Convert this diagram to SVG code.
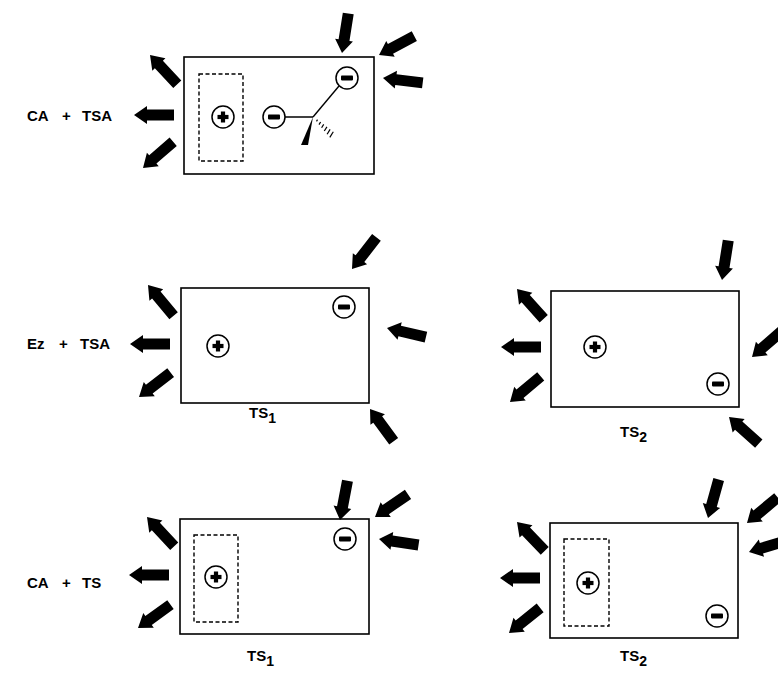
<svg xmlns="http://www.w3.org/2000/svg" xmlns:xlink="http://www.w3.org/1999/xlink" width="778" height="673" viewBox="0 0 778 673">
<style>
.box{fill:none;stroke:#000;stroke-width:1.6}
.dash{fill:none;stroke:#000;stroke-width:1.4;stroke-dasharray:4 2.5}
.ring{fill:#fff;stroke:#000;stroke-width:1.5}
.lbl{font-family:"Liberation Sans",Arial,sans-serif;font-weight:bold;font-size:15px;fill:#000}
.ts{font-family:"Liberation Sans",Arial,sans-serif;font-weight:bold;font-size:15px;fill:#000}
.bond{stroke:#000;stroke-width:1.4;fill:none}
</style>
<defs>
<path id="arr" d="M0,0 L-13,-9 L-13,-5.5 L-40,-5.5 L-40,5.5 L-13,5.5 L-13,9 Z" fill="#000"/>
<g id="plus"><circle r="11" class="ring"/><rect x="-5.5" y="-2.1" width="11" height="4.2" fill="#000"/><rect x="-2.1" y="-5.5" width="4.2" height="11" fill="#000"/></g>
<g id="minus"><circle r="11" class="ring"/><rect x="-6" y="-2.4" width="12" height="4.8" rx="0.8" fill="#000"/></g>
</defs>

<g id="label-row1"><text class="lbl" x="27" y="121">CA</text><text class="lbl" x="62" y="121">+</text><text class="lbl" x="82" y="121">TSA</text></g>
<g id="label-row2"><text class="lbl" x="27" y="349">Ez</text><text class="lbl" x="59" y="349">+</text><text class="lbl" x="80" y="349">TSA</text></g>
<g id="label-row3"><text class="lbl" x="27" y="588">CA</text><text class="lbl" x="62" y="588">+</text><text class="lbl" x="82" y="588">TS</text></g>

<g id="node-top">
<rect class="box" x="184" y="57" width="190" height="117"/>
<rect class="dash" x="199" y="74" width="44" height="87"/>
<use xlink:href="#plus" x="223" y="117"/>
<line class="bond" x1="274" y1="117" x2="313" y2="117"/>
<line class="bond" x1="313" y1="117" x2="339" y2="86"/>
<path d="M313,117 L301,145 L308,145 Z" fill="#000"/>
<g stroke="#000" stroke-width="1.2">
<line x1="317.5" y1="119.6" x2="316.5" y2="121.4"/>
<line x1="320.6" y1="122.0" x2="319.0" y2="124.6"/>
<line x1="323.7" y1="124.4" x2="321.6" y2="127.8"/>
<line x1="326.9" y1="126.9" x2="324.3" y2="131.0"/>
<line x1="330.1" y1="129.4" x2="327.1" y2="134.2"/>
<line x1="333.3" y1="131.8" x2="329.8" y2="137.4"/>
</g>
<use xlink:href="#minus" x="274" y="117"/>
<use xlink:href="#minus" x="347" y="78"/>
</g>

<g id="node-mid-ts1">
<rect class="box" x="181" y="288" width="188" height="115"/>
<use xlink:href="#plus" x="218" y="346"/>
<use xlink:href="#minus" x="344" y="307"/>
<text class="ts" x="249" y="418">TS<tspan font-size="14" dy="5">1</tspan></text>
</g>

<g id="node-mid-ts2">
<rect class="box" x="551" y="291" width="188" height="116"/>
<use xlink:href="#plus" x="595" y="347"/>
<use xlink:href="#minus" x="718" y="384"/>
<text class="ts" x="620" y="437">TS<tspan font-size="14" dy="5">2</tspan></text>
</g>

<g id="node-bot-ts1">
<rect class="box" x="180" y="519" width="189" height="115"/>
<rect class="dash" x="194" y="535" width="44" height="87"/>
<use xlink:href="#plus" x="216" y="577"/>
<use xlink:href="#minus" x="345" y="539"/>
<text class="ts" x="247" y="661">TS<tspan font-size="14" dy="5">1</tspan></text>
</g>

<g id="node-bot-ts2">
<rect class="box" x="550" y="523" width="188" height="115"/>
<rect class="dash" x="564" y="539" width="45" height="87"/>
<use xlink:href="#plus" x="588" y="583"/>
<use xlink:href="#minus" x="717" y="616"/>
<text class="ts" x="620" y="661">TS<tspan font-size="14" dy="5">2</tspan></text>
</g>

<g id="connectors">
<use xlink:href="#arr" transform="translate(150,55) rotate(-133)"/>
<use xlink:href="#arr" transform="translate(134,115) rotate(180)"/>
<use xlink:href="#arr" transform="translate(143,168) rotate(139)"/>
<use xlink:href="#arr" transform="translate(342,53) rotate(99)"/>
<use xlink:href="#arr" transform="translate(379,55) rotate(152)"/>
<use xlink:href="#arr" transform="translate(383,78) rotate(-173)"/>

<use xlink:href="#arr" transform="translate(352,269) rotate(127.7)"/>
<use xlink:href="#arr" transform="translate(148,285) rotate(-129.8)"/>
<use xlink:href="#arr" transform="translate(130,344) rotate(180)"/>
<use xlink:href="#arr" transform="translate(139,397) rotate(142.3)"/>
<use xlink:href="#arr" transform="translate(387,328) rotate(-166.7)"/>
<use xlink:href="#arr" transform="translate(370,409) rotate(-126.3)"/>

<use xlink:href="#arr" transform="translate(722,280) rotate(99)"/>
<use xlink:href="#arr" transform="translate(517,289) rotate(-131.9)"/>
<use xlink:href="#arr" transform="translate(501,347) rotate(180)"/>
<use xlink:href="#arr" transform="translate(510,402) rotate(140.2)"/>
<use xlink:href="#arr" transform="translate(752,357) rotate(139)"/>
<use xlink:href="#arr" transform="translate(729,417) rotate(-138.1)"/>

<use xlink:href="#arr" transform="translate(340,520) rotate(100.8)"/>
<use xlink:href="#arr" transform="translate(375,517) rotate(145.6)"/>
<use xlink:href="#arr" transform="translate(379,539) rotate(-171.3)"/>
<use xlink:href="#arr" transform="translate(147,517) rotate(-132.9)"/>
<use xlink:href="#arr" transform="translate(129,575) rotate(180)"/>
<use xlink:href="#arr" transform="translate(138,628) rotate(144.3)"/>

<use xlink:href="#arr" transform="translate(708,518) rotate(105.5)"/>
<use xlink:href="#arr" transform="translate(747,523) rotate(140.2)"/>
<use xlink:href="#arr" transform="translate(749,552) rotate(163)"/>
<use xlink:href="#arr" transform="translate(517,522) rotate(-133.9)"/>
<use xlink:href="#arr" transform="translate(500,578) rotate(180)"/>
<use xlink:href="#arr" transform="translate(509,633) rotate(141.1)"/>
</g>
</svg>
